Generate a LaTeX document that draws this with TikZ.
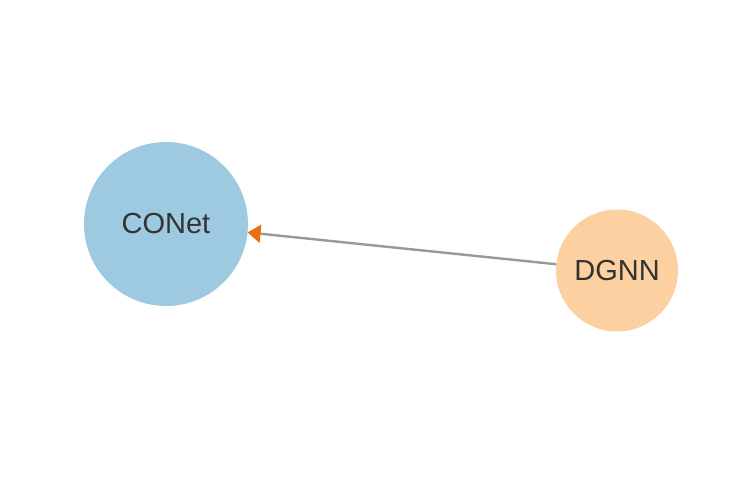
\documentclass[tikz,border=0pt]{standalone}
\usepackage{fontspec}
\setmainfont{Liberation Sans}
\usetikzlibrary{arrows.meta}

\definecolor{blueFill}{HTML}{9ECAE1}
\definecolor{orangeFill}{HTML}{FDD0A2}
\definecolor{tipOrange}{HTML}{EE6D12}
\definecolor{edgeGray}{HTML}{999999}
\definecolor{labelGray}{HTML}{333333}

\begin{document}
\begin{tikzpicture} [x=1pt, y=-1pt,
  netnode/.style={circle, inner sep=0, outer sep=0, text=labelGray, font=\fontsize{29}{34}\selectfont},
  netedge/.style={edgeGray, line width=2.4pt, -{Triangle[length=13pt, width=18pt, color=tipOrange]}}]
\useasboundingbox (0,0) rectangle (742,482);

\node[netnode, fill=blueFill, minimum size=164pt] (conet) at (166,224) {CONet};
\node[netnode, fill=orangeFill, minimum size=122pt] (dgnn) at (617,270.5) {DGNN};

\draw[netedge] (dgnn) -- (conet);

\end{tikzpicture}
\end{document}
